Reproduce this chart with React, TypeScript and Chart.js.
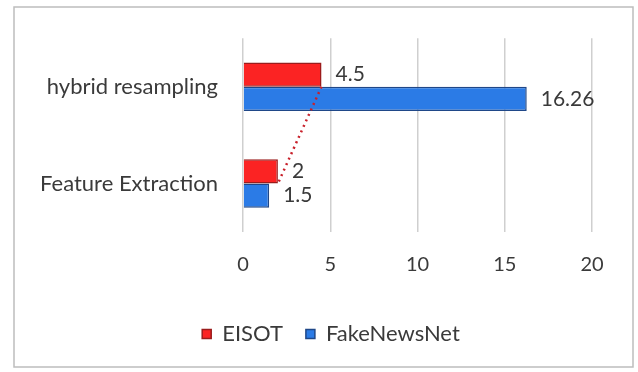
import React, { useEffect, useRef } from "react";
import { Chart, registerables } from "chart.js";

Chart.register(...registerables);

const categories = ["hybrid resampling", "Feature Extraction"];
const eisotValues = [4.5, 2];
const fakeNewsNetValues = [16.26, 1.5];
const seriesNames = ["EISOT", "FakeNewsNet"];
const xMin = 0;
const xMax = 20;
const xStep = 5;

const FONT = "Lato, 'Open Sans', sans-serif";
const TEXT = "#3a3a3a";

const frame = {
  id: "frame",
  beforeDraw(chart: any) {
    const { ctx, width, height } = chart;
    ctx.save();
    ctx.fillStyle = "#ffffff";
    ctx.fillRect(0, 0, width, height);
    ctx.strokeStyle = "#bdbdbd";
    ctx.lineWidth = 1.5;
    ctx.strokeRect(14, 7, 619, 360);
    ctx.restore();
  },
};

const valueLabels = {
  id: "valueLabels",
  afterDatasetsDraw(chart: any) {
    const { ctx } = chart;
    ctx.save();
    ctx.font = `21px ${FONT}`;
    ctx.fillStyle = TEXT;
    ctx.textBaseline = "middle";
    ctx.textAlign = "left";
    chart.data.datasets.forEach((ds: any, i: number) => {
      if (ds.type === "line") return;
      const meta = chart.getDatasetMeta(i);
      meta.data.forEach((bar: any, j: number) => {
        ctx.fillText(String(ds.data[j]), bar.x + 14, bar.y);
      });
    });
    ctx.restore();
  },
};

export default function App() {
  const ref = useRef<HTMLCanvasElement>(null);
  useEffect(() => {
    document.body.style.margin = "0";
    const chart = new Chart(ref.current!, {
      type: "bar",
      data: {
        labels: categories,
        datasets: [
          {
            label: seriesNames[0],
            data: eisotValues,
            backgroundColor: "#fb2323",
            borderColor: "#9a1c1c",
            borderWidth: 1.5,
            order: 2,
          } as any,
          {
            label: seriesNames[1],
            data: fakeNewsNetValues,
            backgroundColor: "#2b7be6",
            borderColor: "#1f4788",
            borderWidth: 1.5,
            order: 2,
          },
          {
            type: "line",
            label: "trend",
            data: eisotValues,
            borderColor: "#c8202a",
            borderWidth: 2.5,
            borderDash: [2, 4],
            pointRadius: 0,
            fill: false,
            order: 0,
          },
        ],
      },
      options: {
        indexAxis: "y",
        animation: false,
        responsive: false,
        maintainAspectRatio: false,
        datasets: {
          bar: { categoryPercentage: 0.5, barPercentage: 1 },
        },
        layout: { padding: { top: 31, right: 6, bottom: 17, left: 30 } },
        plugins: {
          legend: {
            position: "bottom",
            labels: {
              filter: (item: any) => item.text !== "trend",
              font: { family: FONT, size: 22 },
              color: TEXT,
              boxWidth: 9,
              boxHeight: 9,
              padding: 23,
            },
          },
          tooltip: { enabled: false },
        },
        scales: {
          x: {
            min: xMin,
            max: xMax,
            ticks: { stepSize: xStep, font: { family: FONT, size: 20 }, color: TEXT, padding: 21 },
            grid: { color: "#cfcfcf", lineWidth: 1.5, drawTicks: false },
            border: { display: false },
            afterFit: (s: any) => {
              s.height = 68;
            },
          },
          y: {
            ticks: { font: { family: FONT, size: 22 }, color: TEXT, padding: 25 },
            grid: { display: false, drawTicks: false },
            border: { display: false },
            afterFit: (s: any) => {
              s.width = 213;
            },
          },
          yRight: {
            axis: "y",
            type: "linear",
            position: "right",
            ticks: { display: false },
            grid: { display: false, drawTicks: false },
            border: { display: false },
            afterFit: (s: any) => {
              s.width = 40;
            },
          },
        },
      },
      plugins: [frame, valueLabels],
    } as any);
    return () => chart.destroy();
  }, []);
  return <canvas ref={ref} width={638} height={372} style={{ display: "block" }} />;
}
